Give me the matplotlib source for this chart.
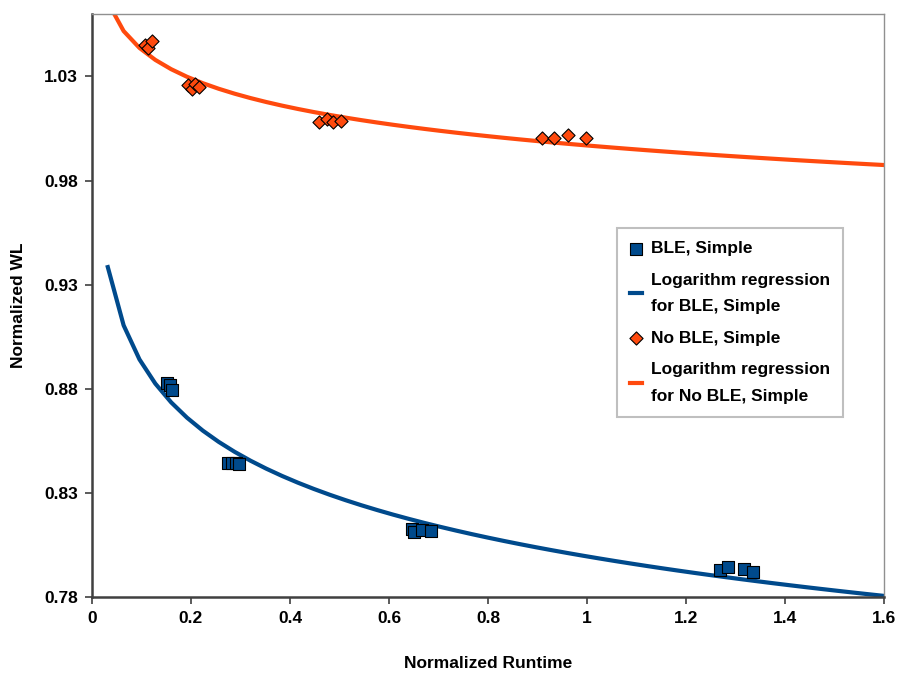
import numpy as np
import matplotlib.pyplot as plt

plt.rcParams['font.family'] = ['Liberation Sans', 'DejaVu Sans']
plt.rcParams['font.weight'] = 'bold'

# Data
ble_x = [0.152, 0.158, 0.162, 0.275, 0.283, 0.291, 0.297,
         0.647, 0.651, 0.666, 0.685, 1.269, 1.285, 1.317, 1.336]
ble_y = [0.8829, 0.8819, 0.8795, 0.8444, 0.8444, 0.8444, 0.8439,
         0.8125, 0.8112, 0.8122, 0.8117, 0.7930, 0.7946, 0.7935, 0.7922]
noble_x = [0.107, 0.113, 0.121, 0.194, 0.202, 0.208, 0.216,
           0.459, 0.474, 0.487, 0.504, 0.909, 0.934, 0.961, 0.999]
noble_y = [1.0449, 1.0435, 1.0468, 1.0257, 1.0238, 1.0262, 1.0247,
           1.0079, 1.0094, 1.0079, 1.0084, 1.0002, 1.0006, 1.0020, 1.0006]

blue = '#004a8c'
orange = '#ff4a0e'

# logarithmic regression (y = a + b ln x)
b1, a1 = np.polyfit(np.log(ble_x), ble_y, 1)
b2, a2 = np.polyfit(np.log(noble_x), noble_y, 1)
xs = np.linspace(0.032, 1.6, 50)

fig = plt.figure(figsize=(8.98, 6.75), dpi=100)
ax = fig.add_axes([0.1024, 0.1156, 0.882, 0.8637])

ax.scatter(ble_x, ble_y, marker='s', s=80, color=blue, edgecolor='black',
           linewidth=0.8, zorder=3, label='BLE, Simple')
ax.plot(xs, a1 + b1 * np.log(xs), color=blue, lw=3,
        label='Logarithm regression\nfor BLE, Simple')
ax.scatter(noble_x, noble_y, marker='D', s=45, color=orange, edgecolor='black',
           linewidth=0.8, zorder=3, label='No BLE, Simple')
ax.plot(xs, a2 + b2 * np.log(xs), color=orange, lw=3,
        label='Logarithm regression\nfor No BLE, Simple')

ax.set_xlim(0, 1.6)
ax.set_ylim(0.78, 1.06)
ax.set_xticks(np.arange(0, 1.61, 0.2))
ax.set_xticklabels(['0', '0.2', '0.4', '0.6', '0.8', '1', '1.2', '1.4', '1.6'])
ax.set_yticks([0.78, 0.83, 0.88, 0.93, 0.98, 1.03])
ax.set_yticklabels(['0.78', '0.83', '0.88', '0.93', '0.98', '1.03'])
ax.tick_params(labelsize=12.5, length=5, width=1.2, color='#404040', pad=5)

for s in ['left', 'bottom']:
    ax.spines[s].set_color('#404040')
    ax.spines[s].set_linewidth(1.8)
for s in ['top', 'right']:
    ax.spines[s].set_color('#909090')
    ax.spines[s].set_linewidth(1)

ax.set_xlabel('Normalized Runtime', fontsize=12.5, fontweight='bold', labelpad=22)
ax.set_ylabel('Normalized WL', fontsize=12.5, fontweight='bold', labelpad=13)

leg = ax.legend(loc='upper left', bbox_to_anchor=(0.663, 0.633), fontsize=12.5,
                frameon=True, fancybox=False, edgecolor='#b0b0b0',
                handlelength=0.7, handletextpad=0.5, labelspacing=0.95,
                borderpad=0.75, borderaxespad=0)
leg.get_frame().set_linewidth(1.5)
for t in leg.get_texts():
    t.set_linespacing(1.95)

fig.savefig('out.png', dpi=100)
